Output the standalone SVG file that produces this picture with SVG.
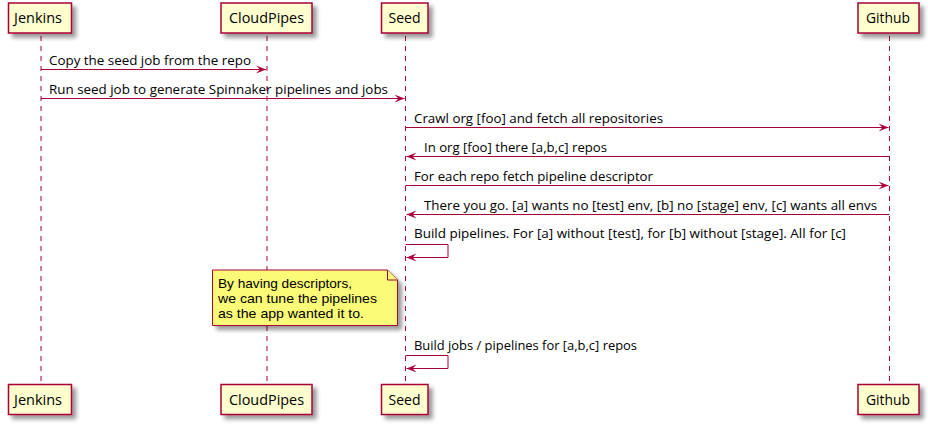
<svg xmlns="http://www.w3.org/2000/svg" width="928" height="425" viewBox="0 0 928 425">
<defs>
<filter id="sh" x="-10%" y="-20%" width="140%" height="160%">
<feGaussianBlur in="SourceAlpha" stdDeviation="2"/>
<feOffset dx="4" dy="4" result="b"/>
<feComponentTransfer><feFuncA type="linear" slope="0.4"/></feComponentTransfer>
<feMerge><feMergeNode/><feMergeNode in="SourceGraphic"/></feMerge>
</filter>
<marker id="ah" viewBox="0 0 11 9" refX="10" refY="4.5" markerWidth="11" markerHeight="9" markerUnits="userSpaceOnUse" orient="auto">
<polygon points="0,0.5 10,4.5 0,8.5 4,4.5" fill="#A80036"/>
</marker>
</defs>
<style>
.box{fill:#FEFECE;stroke:#A80036;stroke-width:1.5}
.life{stroke:#A80036;stroke-width:1;stroke-dasharray:5,5;fill:none}
.msg{stroke:#A80036;stroke-width:1;fill:none;marker-end:url(#ah)}
.pt{font-family:"Open Sans","Liberation Sans",Arial,sans-serif;font-size:14px;fill:#000}
.mt{font-family:"Open Sans","Liberation Sans",Arial,sans-serif;font-size:13px;fill:#000}
.nt{font-family:"Liberation Sans",Arial,sans-serif;font-size:13px;fill:#000}
.note{fill:#FBFB77;stroke:#A80036;stroke-width:1}
</style>
<rect width="928" height="425" fill="#FFFFFF"/>
<g id="lifelines">
<line class="life" x1="41" y1="36" x2="41" y2="384"/>
<line class="life" x1="267" y1="36" x2="267" y2="384"/>
<line class="life" x1="405.5" y1="36" x2="405.5" y2="384"/>
<line class="life" x1="889.5" y1="36" x2="889.5" y2="384"/>
</g>
<g id="jenkins">
<rect class="box" x="8.5" y="3" width="63" height="30" filter="url(#sh)"/>
<text class="pt" x="14" y="23" textLength="48" lengthAdjust="spacingAndGlyphs">Jenkins</text>
<rect class="box" x="8.5" y="384.5" width="63" height="30" filter="url(#sh)"/>
<text class="pt" x="14" y="404.5" textLength="48" lengthAdjust="spacingAndGlyphs">Jenkins</text>
</g>
<g id="cloudpipes">
<rect class="box" x="221" y="3" width="91" height="30" filter="url(#sh)"/>
<text class="pt" x="229" y="23" textLength="75" lengthAdjust="spacingAndGlyphs">CloudPipes</text>
<rect class="box" x="221" y="384.5" width="91" height="30" filter="url(#sh)"/>
<text class="pt" x="229" y="404.5" textLength="75" lengthAdjust="spacingAndGlyphs">CloudPipes</text>
</g>
<g id="seed">
<rect class="box" x="381.5" y="3" width="46.5" height="30" filter="url(#sh)"/>
<text class="pt" x="388.5" y="23" textLength="32" lengthAdjust="spacingAndGlyphs">Seed</text>
<rect class="box" x="381.5" y="384.5" width="46.5" height="30" filter="url(#sh)"/>
<text class="pt" x="388.5" y="404.5" textLength="32" lengthAdjust="spacingAndGlyphs">Seed</text>
</g>
<g id="github">
<rect class="box" x="858" y="3" width="61" height="30" filter="url(#sh)"/>
<text class="pt" x="866" y="23" textLength="44" lengthAdjust="spacingAndGlyphs">Github</text>
<rect class="box" x="858" y="384.5" width="61" height="30" filter="url(#sh)"/>
<text class="pt" x="866" y="404.5" textLength="44" lengthAdjust="spacingAndGlyphs">Github</text>
</g>
<g id="note">
<path class="note" d="M212.5,270 L387.5,270 L397.5,280 L397.5,325.5 L212.5,325.5 Z" filter="url(#sh)"/>
<path class="note" d="M387.5,270 L387.5,280 L397.5,280" fill="#FBFB77"/>
<text class="nt" x="218" y="287.5" textLength="134" lengthAdjust="spacingAndGlyphs">By having descriptors,</text>
<text class="nt" x="218" y="302.5" textLength="159" lengthAdjust="spacingAndGlyphs">we can tune the pipelines</text>
<text class="nt" x="218" y="317.5" textLength="146" lengthAdjust="spacingAndGlyphs">as the app wanted it to.</text>
</g>
<g id="connectors">
<line class="msg" x1="41" y1="69.5" x2="266" y2="69.5"/>
<text class="mt" x="49" y="64.5" textLength="202" lengthAdjust="spacingAndGlyphs">Copy the seed job from the repo</text>
<line class="msg" x1="41" y1="98.5" x2="404.5" y2="98.5"/>
<text class="mt" x="49" y="93.5" textLength="339" lengthAdjust="spacingAndGlyphs">Run seed job to generate Spinnaker pipelines and jobs</text>
<line class="msg" x1="405.5" y1="127.5" x2="888.5" y2="127.5"/>
<text class="mt" x="414" y="122.5" textLength="249" lengthAdjust="spacingAndGlyphs">Crawl org [foo] and fetch all repositories</text>
<line class="msg" x1="889.5" y1="156.5" x2="406.5" y2="156.5"/>
<text class="mt" x="424" y="151.5" textLength="183" lengthAdjust="spacingAndGlyphs">In org [foo] there [a,b,c] repos</text>
<line class="msg" x1="405.5" y1="185.5" x2="888.5" y2="185.5"/>
<text class="mt" x="414" y="180.5" textLength="239" lengthAdjust="spacingAndGlyphs">For each repo fetch pipeline descriptor</text>
<line class="msg" x1="889.5" y1="214.5" x2="406.5" y2="214.5"/>
<text class="mt" x="424" y="209.5" textLength="453" lengthAdjust="spacingAndGlyphs">There you go. [a] wants no [test] env, [b] no [stage] env, [c] wants all envs</text>
<polyline class="msg" points="405.5,244.5 448,244.5 448,257.5 406.5,257.5"/>
<text class="mt" x="414" y="238" textLength="432" lengthAdjust="spacingAndGlyphs">Build pipelines. For [a] without [test], for [b] without [stage]. All for [c]</text>
<polyline class="msg" points="405.5,355.5 448,355.5 448,368.5 406.5,368.5"/>
<text class="mt" x="414" y="349.5" textLength="223" lengthAdjust="spacingAndGlyphs">Build jobs / pipelines for [a,b,c] repos</text>
</g>
</svg>
